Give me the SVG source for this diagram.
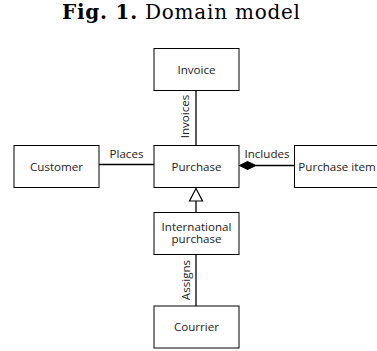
<svg xmlns="http://www.w3.org/2000/svg" width="377" height="351" viewBox="0 0 377 351">
  <style>
    .box { fill: #fff; stroke: #000; stroke-width: 1; }
    .lbl { font-family: "Open Sans", "Noto Sans", sans-serif; font-size: 11.6px; fill: #222; text-anchor: middle; }
    .edge { stroke: #000; stroke-width: 1.3; fill: none; }
    .title { font-family: "DejaVu Serif", "Liberation Serif", serif; font-size: 20px; fill: #000; }
  </style>

  <text class="title" x="62" y="19" textLength="238" lengthAdjust="spacing"><tspan font-weight="bold">Fig. 1.</tspan> Domain model</text>

  <g id="connectors">
    <line class="edge" x1="196" y1="91" x2="196" y2="145"/>
    <text class="lbl" transform="translate(189 116.5) rotate(-90)">Invoices</text>
    <line class="edge" x1="99" y1="164.5" x2="154" y2="164.5"/>
    <text class="lbl" x="126.5" y="157.5">Places</text>
    <line class="edge" x1="256" y1="165.5" x2="294.5" y2="165.5"/>
    <path d="M239.5 165.5 L247.5 161.5 L256 165.5 L247.5 169.5 Z" fill="#000" stroke="#000" stroke-width="1"/>
    <text class="lbl" x="267" y="157.5">Includes</text>
    <line class="edge" x1="196" y1="201" x2="196" y2="212.5"/>
    <path d="M196 188.5 L202.5 201 L189.5 201 Z" fill="#fff" stroke="#000" stroke-width="1.2"/>
    <line class="edge" x1="196" y1="254.5" x2="196" y2="306"/>
    <text class="lbl" transform="translate(189.5 280) rotate(-90)">Assigns</text>
  </g>

  <g id="invoice">
    <rect class="box" x="154" y="48.5" width="85" height="42"/>
    <text class="lbl" x="196.5" y="73.5">Invoice</text>
  </g>
  <g id="customer">
    <rect class="box" x="14" y="145.5" width="85" height="42"/>
    <text class="lbl" x="56.5" y="170.5">Customer</text>
  </g>
  <g id="purchase">
    <rect class="box" x="154" y="145.5" width="85" height="42"/>
    <text class="lbl" x="196.5" y="170.5">Purchase</text>
  </g>
  <g id="purchase-item">
    <rect class="box" x="294.5" y="145.5" width="85" height="42"/>
    <text class="lbl" x="337" y="170.5">Purchase item</text>
  </g>
  <g id="international-purchase">
    <rect class="box" x="154" y="212.5" width="85" height="42"/>
    <text class="lbl"><tspan x="196.5" y="230.5">International</tspan><tspan x="196.5" y="243">purchase</tspan></text>
  </g>
  <g id="courrier">
    <rect class="box" x="154" y="306" width="85" height="42"/>
    <text class="lbl" x="196.5" y="331">Courrier</text>
  </g>
</svg>
